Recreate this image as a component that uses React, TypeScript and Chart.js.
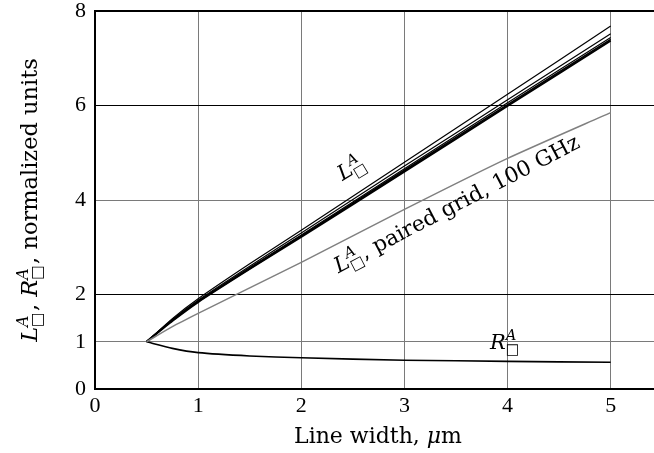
import React, { useEffect, useRef } from 'react';
import { Chart, registerables } from 'chart.js';

Chart.register(...registerables);

const xValues = [0.5, 0.75, 1, 1.5, 2, 3, 4, 5];
const lineA1 = [1, 1.44, 1.84, 2.54, 3.22, 4.6, 5.99, 7.37];
const lineA2 = [1, 1.45, 1.85, 2.55, 3.24, 4.63, 6.02, 7.4];
const lineA3 = [1, 1.46, 1.86, 2.57, 3.26, 4.66, 6.06, 7.44];
const lineA4 = [1, 1.47, 1.88, 2.6, 3.3, 4.72, 6.12, 7.52];
const lineA5 = [1, 1.49, 1.91, 2.65, 3.36, 4.8, 6.24, 7.68];
const pairedGrid = [1, 1.32, 1.6, 2.14, 2.68, 3.8, 4.88, 5.85];
const resistance = [1, 0.86, 0.77, 0.7, 0.66, 0.61, 0.585, 0.565];

const xTicks = [0, 1, 2, 3, 4, 5];
const yTicks = [0, 1, 2, 4, 6, 8];
const darkGridY = [2, 6];

const TICK_FONT = '"Liberation Serif", "DejaVu Serif", serif';
const SERIF = '"DejaVu Serif", "Liberation Serif", serif';

type Seg = { t: string; it?: boolean; sup?: string; sub?: string };

function fnt(size: number, it?: boolean) {
  return `${it ? 'italic ' : ''}${size}px ${SERIF}`;
}

function segWidth(ctx: CanvasRenderingContext2D, s: Seg, size: number) {
  ctx.font = fnt(size, s.it);
  let w = ctx.measureText(s.t).width;
  if (s.sup || s.sub) {
    const ss = size * 0.7;
    ctx.font = fnt(ss, true);
    const a = s.sup ? ctx.measureText(s.sup).width : 0;
    ctx.font = fnt(ss, false);
    const b = s.sub ? ctx.measureText(s.sub).width : 0;
    w += Math.max(a, b) + 1;
  }
  return w;
}

function drawRich(
  ctx: CanvasRenderingContext2D,
  segs: Seg[],
  x: number,
  y: number,
  angle: number,
  size: number,
  align: 'left' | 'center'
) {
  ctx.save();
  ctx.translate(x, y);
  ctx.rotate(angle);
  ctx.textBaseline = 'alphabetic';
  ctx.textAlign = 'left';
  ctx.fillStyle = '#000';
  let total = 0;
  for (const s of segs) total += segWidth(ctx, s, size);
  let cx = align === 'center' ? -total / 2 : 0;
  for (const s of segs) {
    ctx.font = fnt(size, s.it);
    ctx.fillText(s.t, cx, 0);
    cx += ctx.measureText(s.t).width;
    if (s.sup || s.sub) {
      const ss = size * 0.7;
      let a = 0;
      let b = 0;
      if (s.sup) {
        ctx.font = fnt(ss, true);
        ctx.fillText(s.sup, cx, -size * 0.42);
        a = ctx.measureText(s.sup).width;
      }
      if (s.sub) {
        ctx.font = fnt(ss, false);
        ctx.fillText(s.sub, cx, size * 0.22);
        b = ctx.measureText(s.sub).width;
      }
      cx += Math.max(a, b) + 1;
    }
  }
  ctx.restore();
}

const yTitle: Seg[] = [
  { t: 'L', it: true, sup: 'A', sub: '□' },
  { t: ', ' },
  { t: 'R', it: true, sup: 'A', sub: '□' },
  { t: ', normalized units' },
];
const xTitle: Seg[] = [{ t: 'Line width, ' }, { t: 'μ', it: true }, { t: 'm' }];
const labelL: Seg[] = [{ t: 'L', it: true, sup: 'A', sub: '□' }];
const labelPaired: Seg[] = [
  { t: 'L', it: true, sup: 'A', sub: '□' },
  { t: ', paired grid, 100 GHz' },
];
const labelR: Seg[] = [{ t: 'R', it: true, sup: 'A', sub: '□' }];

const decorPlugin = {
  id: 'decor',
  afterDraw(chart: any) {
    const ctx: CanvasRenderingContext2D = chart.ctx;
    const { chartArea, scales } = chart;
    const xs = scales.x;
    const ys = scales.y;
    ctx.save();
    ctx.strokeStyle = '#000';
    ctx.lineWidth = 2;
    ctx.beginPath();
    ctx.moveTo(chartArea.left - 1, chartArea.top);
    ctx.lineTo(chartArea.right, chartArea.top);
    ctx.stroke();
    ctx.restore();

    drawRich(ctx, yTitle, 37, 200, -Math.PI / 2, 22.5, 'center');
    drawRich(ctx, xTitle, 378, 443, 0, 22, 'center');

    drawRich(ctx, labelL, xs.getPixelForValue(2.4), ys.getPixelForValue(4.4), (-31 * Math.PI) / 180, 21, 'left');
    drawRich(ctx, labelPaired, xs.getPixelForValue(2.36), ys.getPixelForValue(2.45), (-27.5 * Math.PI) / 180, 21.5, 'left');
    drawRich(ctx, labelR, xs.getPixelForValue(3.83), ys.getPixelForValue(0.84), 0, 21, 'left');
  },
};

function toPoints(ys: number[]) {
  return xValues.map((x, i) => ({ x, y: ys[i] }));
}

export default function App() {
  const ref = useRef<HTMLCanvasElement | null>(null);
  useEffect(() => {
    document.body.style.margin = '0';
    if (!ref.current) return;
    const mk = (data: number[], color: string, width: number) => ({
      data: toPoints(data),
      borderColor: color,
      borderWidth: width,
      pointRadius: 0,
      fill: false,
      tension: 0.2,
    });
    const chart = new Chart(ref.current, {
      type: 'line',
      data: {
        datasets: [
          mk(pairedGrid, '#808080', 1.5),
          mk(resistance, '#000', 1.6),
          mk(lineA1, '#000', 2),
          mk(lineA2, '#000', 1.6),
          mk(lineA3, '#000', 1.2),
          mk(lineA4, '#000', 1.2),
          mk(lineA5, '#000', 1.2),
        ],
      },
      options: {
        animation: false,
        responsive: false,
        maintainAspectRatio: false,
        layout: { padding: { top: 11, right: 0, left: 0, bottom: 0 } },
        plugins: { legend: { display: false }, tooltip: { enabled: false } },
        scales: {
          x: {
            type: 'linear',
            min: 0,
            max: 5.42,
            afterBuildTicks: (s: any) => {
              s.ticks = xTicks.map((v) => ({ value: v }));
            },
            afterFit: (s: any) => {
              s.height = 64;
              s.paddingLeft = 0;
              s.paddingRight = 0;
            },
            grid: { color: '#7a7a7a', lineWidth: 1, drawTicks: false },
            border: { display: true, color: '#000', width: 2 },
            ticks: {
              color: '#000',
              font: { family: TICK_FONT, size: 22 },
              padding: 4,
              maxRotation: 0,
              autoSkip: false,
            },
          },
          y: {
            type: 'linear',
            min: 0,
            max: 8,
            afterBuildTicks: (s: any) => {
              s.ticks = yTicks.map((v) => ({ value: v }));
            },
            afterFit: (s: any) => {
              s.width = 95;
              s.paddingTop = 0;
              s.paddingBottom = 0;
            },
            grid: {
              color: (c: any) => (darkGridY.includes(c.tick?.value) ? '#000' : '#7a7a7a'),
              lineWidth: 1,
              drawTicks: false,
            },
            border: { display: true, color: '#000', width: 2 },
            ticks: {
              color: '#000',
              font: { family: TICK_FONT, size: 22 },
              padding: 9,
              autoSkip: false,
            },
          },
        },
      },
      plugins: [decorPlugin],
    });
    return () => chart.destroy();
  }, []);
  return (
    <div style={{ width: 654, height: 453 }}>
      <canvas ref={ref} width={654} height={453} style={{ display: 'block' }} />
    </div>
  );
}
